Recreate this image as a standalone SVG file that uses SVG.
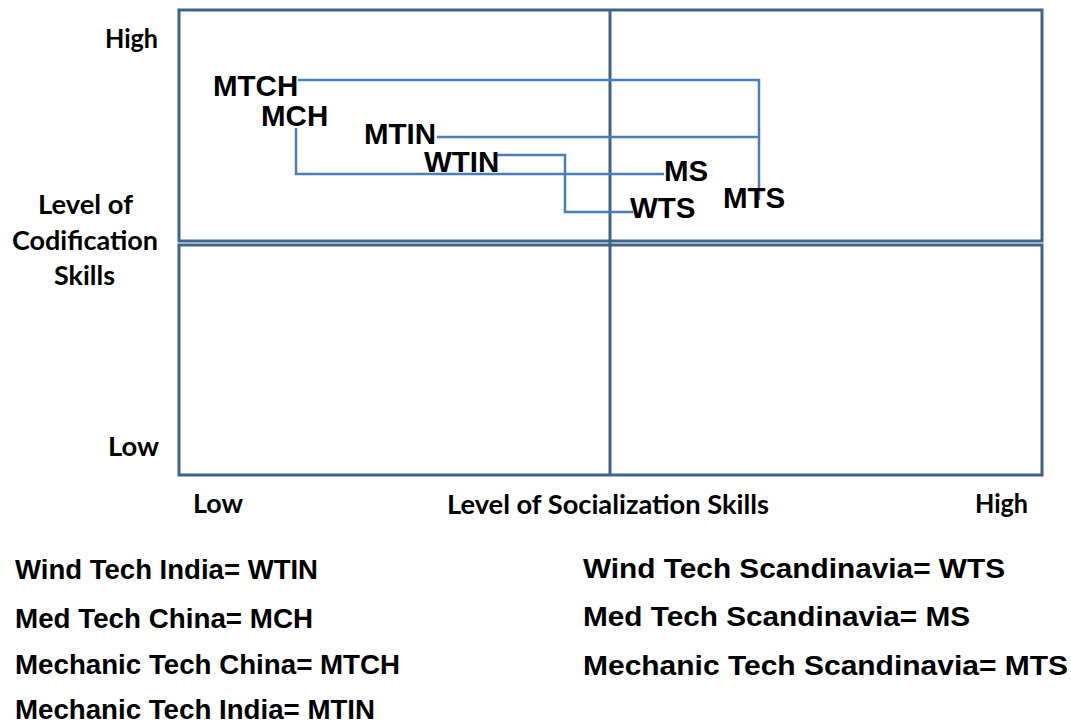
<svg xmlns="http://www.w3.org/2000/svg" width="1071" height="725" viewBox="0 0 1071 725">
<style>
.frame{fill:none;stroke:#3f6288;stroke-width:3}
.conn{fill:none;stroke:#4a7ebb;stroke-width:2.5}
.lbl{font-family:"Liberation Sans",Arial,sans-serif;font-weight:bold;font-size:29.5px;fill:#000}
.leg{font-family:"Liberation Sans",Arial,sans-serif;font-weight:bold;font-size:28px;fill:#000}
.ax{font-family:Lato,"Open Sans",sans-serif;font-weight:bold;font-size:27px;fill:#000}
</style>
<rect width="1071" height="725" fill="#fff"/>
<g id="grid">
<rect class="frame" x="179" y="10" width="863" height="231"/>
<rect class="frame" x="179" y="245" width="863" height="230"/>
<line class="frame" x1="610" y1="10" x2="610" y2="475"/>
</g>
<g id="axis-labels">
<text class="ax" x="105" y="48" textLength="53" lengthAdjust="spacingAndGlyphs">High</text>
<text class="ax" x="38" y="214" textLength="95" lengthAdjust="spacingAndGlyphs">Level of</text>
<text class="ax" x="12" y="250" textLength="146" lengthAdjust="spacingAndGlyphs">Codification</text>
<text class="ax" x="54" y="285" textLength="61" lengthAdjust="spacingAndGlyphs">Skills</text>
<text class="ax" x="108" y="456" textLength="51" lengthAdjust="spacingAndGlyphs">Low</text>
<text class="ax" x="193" y="513" textLength="50" lengthAdjust="spacingAndGlyphs">Low</text>
<text class="ax" x="447" y="514" textLength="322" lengthAdjust="spacingAndGlyphs">Level of Socialization Skills</text>
<text class="ax" x="975" y="513" textLength="53" lengthAdjust="spacingAndGlyphs">High</text>
</g>
<g id="connectors">
<path class="conn" d="M298,80 H759 V200"/>
<path class="conn" d="M437,137 H759"/>
<path class="conn" d="M296,128 V174 H664"/>
<path class="conn" d="M497,155 H565 V212 H633"/>
</g>
<g id="node-MTCH"><text class="lbl" x="213" y="96">MTCH</text></g>
<g id="node-MCH"><text class="lbl" x="261" y="126">MCH</text></g>
<g id="node-MTIN"><text class="lbl" x="364" y="144">MTIN</text></g>
<g id="node-WTIN"><text class="lbl" x="424" y="172">WTIN</text></g>
<g id="node-MS"><text class="lbl" x="664" y="181">MS</text></g>
<g id="node-WTS"><text class="lbl" x="630" y="218">WTS</text></g>
<g id="node-MTS"><text class="lbl" x="723" y="208">MTS</text></g>
<g id="legend">
<text class="leg" x="15" y="579" textLength="303" lengthAdjust="spacingAndGlyphs">Wind Tech India= WTIN</text>
<text class="leg" x="15" y="628" textLength="298" lengthAdjust="spacingAndGlyphs">Med Tech China= MCH</text>
<text class="leg" x="15" y="674" textLength="385" lengthAdjust="spacingAndGlyphs">Mechanic Tech China= MTCH</text>
<text class="leg" x="15" y="719" textLength="360" lengthAdjust="spacingAndGlyphs">Mechanic Tech India= MTIN</text>
<text class="leg" x="583" y="578" textLength="422" lengthAdjust="spacingAndGlyphs">Wind Tech Scandinavia= WTS</text>
<text class="leg" x="583" y="626" textLength="387" lengthAdjust="spacingAndGlyphs">Med Tech Scandinavia= MS</text>
<text class="leg" x="583" y="675" textLength="485" lengthAdjust="spacingAndGlyphs">Mechanic Tech Scandinavia= MTS</text>
</g>
</svg>
